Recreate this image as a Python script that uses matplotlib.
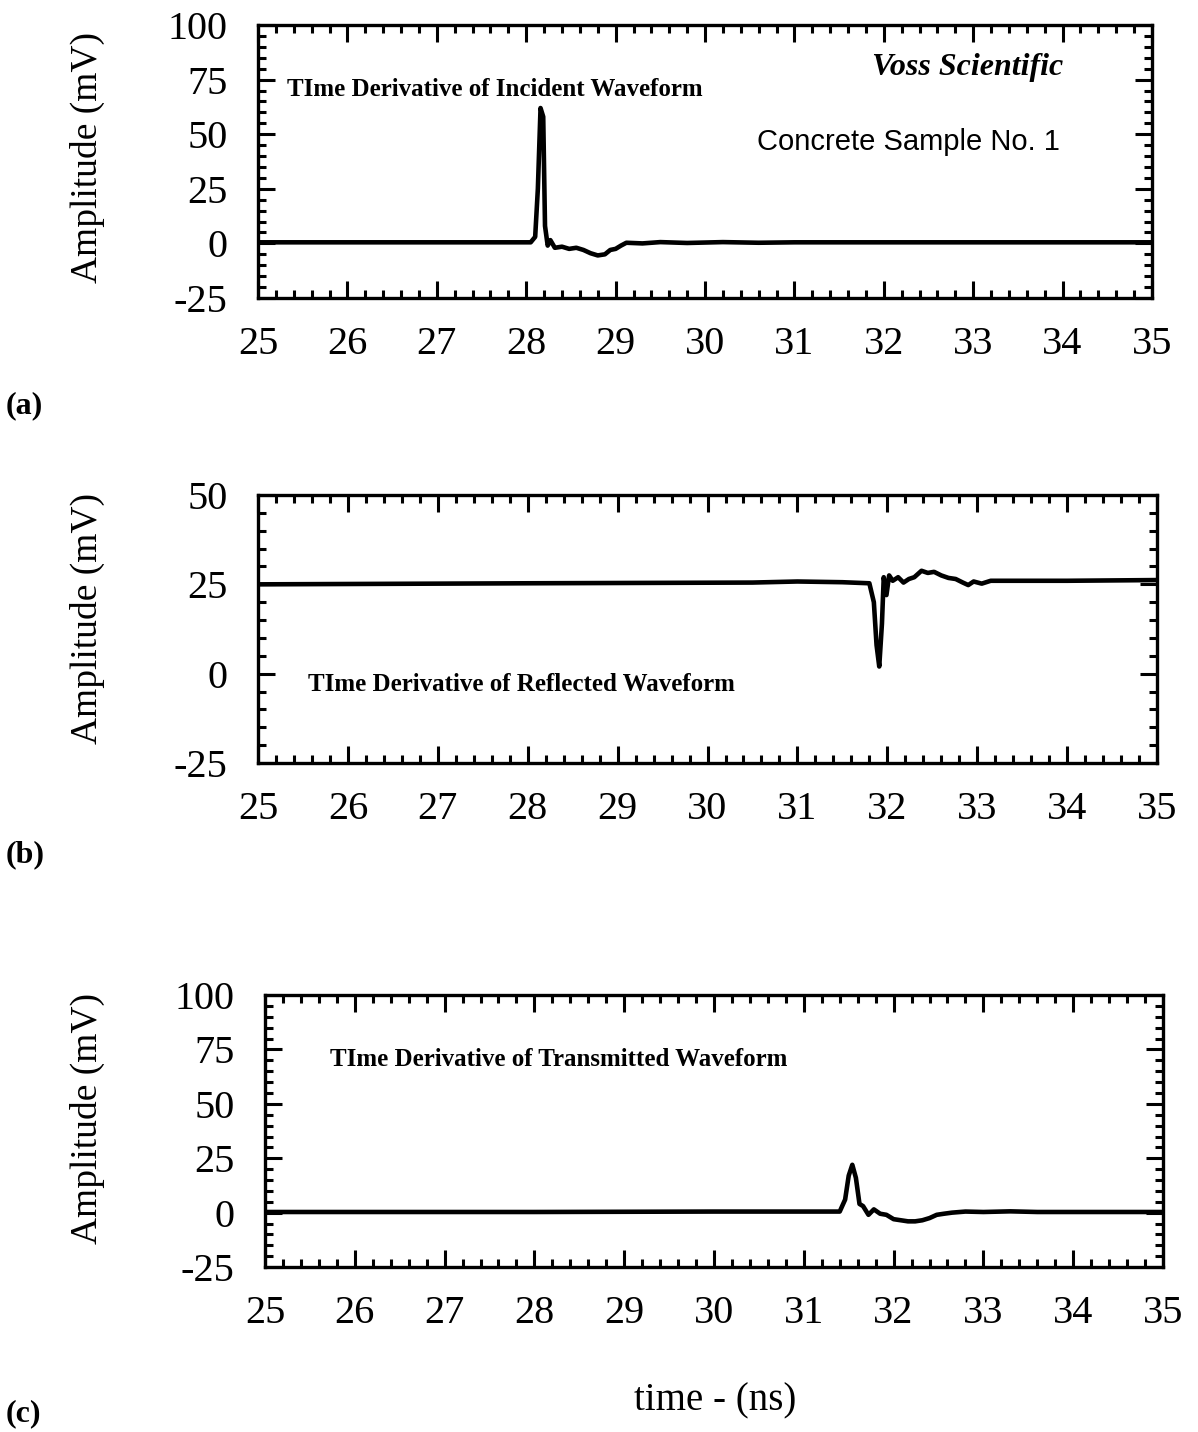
import matplotlib
matplotlib.use('Agg')
import matplotlib.pyplot as plt
from matplotlib.ticker import MultipleLocator

plt.rcParams['font.family'] = ['Liberation Serif', 'DejaVu Serif']
plt.rcParams['axes.unicode_minus'] = False

# time (ns) and amplitude (mV)
t_inc = [25.0, 27.5, 28.05, 28.10, 28.13, 28.16, 28.19, 28.21, 28.24, 28.27, 28.32,
         28.40, 28.48, 28.56, 28.64, 28.72, 28.80, 28.88, 28.94, 29.00, 29.06, 29.12,
         29.3, 29.5, 29.8, 30.2, 30.6, 31.0, 32.0, 33.0, 35.0]
v_inc = [0.5, 0.5, 0.5, 3.0, 25.0, 62.0, 58.0, 8.0, -1.0, 1.5, -2.0,
         -1.5, -2.5, -2.0, -3.0, -4.5, -5.5, -5.0, -3.0, -2.5, -1.0, 0.3,
         0.0, 0.6, 0.2, 0.6, 0.3, 0.5, 0.5, 0.5, 0.5]

t_ref = [25.0, 28.0, 30.5, 31.0, 31.5, 31.80, 31.85, 31.88, 31.91, 31.94, 31.96,
         31.99, 32.02, 32.06, 32.12, 32.18, 32.24, 32.30, 32.38, 32.45, 32.52,
         32.60, 32.68, 32.76, 32.84, 32.90, 32.96, 33.05, 33.15, 34.0, 35.0]
v_ref = [25.0, 25.3, 25.5, 25.8, 25.6, 25.3, 20.0, 8.0, 2.0, 14.0, 27.0,
         22.0, 27.5, 26.0, 27.0, 25.5, 26.5, 27.0, 28.8, 28.2, 28.5,
         27.5, 26.8, 26.5, 25.5, 24.8, 25.8, 25.2, 26.0, 26.0, 26.2]

t_tra = [25.0, 28.0, 30.0, 31.0, 31.40, 31.46, 31.50, 31.54, 31.58, 31.62, 31.66,
         31.72, 31.78, 31.85, 31.92, 32.00, 32.08, 32.16, 32.24, 32.32, 32.40,
         32.48, 32.56, 32.65, 32.8, 33.0, 33.3, 33.6, 34.0, 35.0]
v_tra = [0.3, 0.3, 0.5, 0.5, 0.5, 6.0, 17.0, 22.0, 16.0, 4.0, 3.0,
         -1.0, 1.5, -0.5, -1.0, -3.0, -3.5, -4.0, -4.0, -3.5, -2.5,
         -1.0, -0.5, 0.0, 0.5, 0.3, 0.6, 0.3, 0.3, 0.3]

x_ticks = list(range(25, 36))
y_ticks_a = [-25, 0, 25, 50, 75, 100]
y_ticks_b = [-25, 0, 25, 50]
y_ticks_c = [-25, 0, 25, 50, 75, 100]

fig = plt.figure(figsize=(11.98, 14.32), dpi=100)

panels = [
    ([0.2154, 0.7919, 0.7462, 0.1906], t_inc, v_inc, y_ticks_a, '(a)', 0.717, 0.890),
    ([0.2154, 0.4672, 0.7504, 0.1871], t_ref, v_ref, y_ticks_b, '(b)', 0.403, 0.568),
    ([0.2212, 0.1152, 0.7496, 0.1899], t_tra, v_tra, y_ticks_c, '(c)', 0.013, 0.219),
]

axes = []
for rect, t, v, yt, tag, tag_y, lab_y in panels:
    ax = fig.add_axes(rect)
    ax.plot(t, v, color='black', lw=3.3, solid_joinstyle='round')
    ax.set_xlim(25, 35)
    ax.set_ylim(yt[0], yt[-1])
    ax.set_xticks(x_ticks)
    ax.set_yticks(yt)
    ax.xaxis.set_minor_locator(MultipleLocator(0.2))
    ax.yaxis.set_minor_locator(MultipleLocator(5))
    ax.tick_params(which='both', direction='in', top=True, right=True, width=2.2)
    ax.tick_params(which='major', length=12, labelsize=29)
    ax.tick_params(which='minor', length=6)
    ax.tick_params(axis='x', which='major', pad=20)
    ax.tick_params(axis='y', which='major', pad=22)
    for s in ax.spines.values():
        s.set_linewidth(2.4)
    fig.text(0.073, lab_y, 'Amplitude (mV)', rotation=90, ha='center', va='center',
             fontsize=27)
    fig.text(0.005, tag_y, tag, fontsize=23, fontweight='bold', ha='left', va='center')
    axes.append(ax)

ax_a, ax_b, ax_c = axes
ax_a.text(25.32, 70.5, 'TIme Derivative of Incident Waveform', fontsize=18,
          fontweight='bold', ha='left', va='center')
ax_a.text(32.94, 80.7, 'Voss Scientific', fontsize=23, fontweight='bold',
          fontstyle='italic', ha='center', va='center')
ax_a.text(32.28, 46.3, 'Concrete Sample No. 1', fontsize=21, family='Liberation Sans',
          ha='center', va='center')
ax_b.text(25.56, -3.0, 'TIme Derivative of Reflected Waveform', fontsize=18,
          fontweight='bold', ha='left', va='center')
ax_c.text(25.72, 70.6, 'TIme Derivative of Transmitted Waveform', fontsize=18,
          fontweight='bold', ha='left', va='center')

fig.text(0.597, 0.022, 'time - (ns)', fontsize=28, ha='center', va='center')

fig.savefig('out.png', dpi=100)
